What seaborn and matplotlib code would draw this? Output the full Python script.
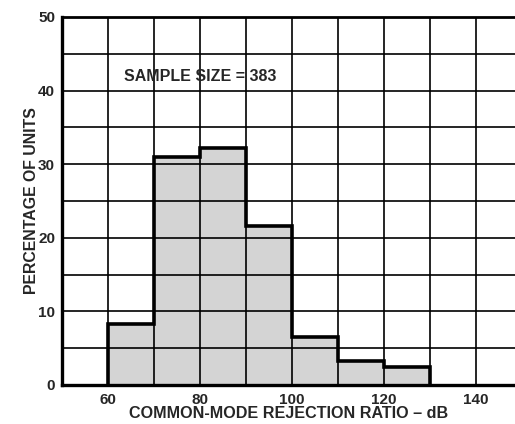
import numpy as np
import matplotlib
matplotlib.use("Agg")
import matplotlib.pyplot as plt
import seaborn as sns

# histogram of common-mode rejection ratio
bin_edges = [60, 70, 80, 90, 100, 110, 120, 130]
percent = [8.3, 31.0, 32.2, 21.6, 6.5, 3.2, 2.4]
x_ticks = [60, 80, 100, 120, 140]
y_ticks = [0, 10, 20, 30, 40, 50]
sample_text = "SAMPLE SIZE = 383"

sns.set_style("white")
plt.rcParams['font.family'] = ['Liberation Sans', 'DejaVu Sans']
plt.rcParams['font.weight'] = 'bold'

fig = plt.figure(figsize=(5.15, 4.24), dpi=100)
ax = fig.add_axes([62 / 515, 1 - 385 / 424, (515 - 62) / 515, (385 - 17) / 424])

centers = [(a + b) / 2 for a, b in zip(bin_edges[:-1], bin_edges[1:])]
sns.histplot(x=centers, weights=percent, bins=bin_edges, ax=ax,
             color='#d4d4d4', alpha=1, edgecolor='none', linewidth=0, zorder=1)
ax.stairs(percent, bin_edges, baseline=0, fill=False, color='black', linewidth=2.6, zorder=3)

ax.set_xlim(50, 148.5)
ax.set_ylim(0, 50)
ax.set_xticks(x_ticks)
ax.set_xticks(np.arange(50, 150, 10), minor=True)
ax.set_yticks(y_ticks)
ax.set_yticks(np.arange(0, 55, 5), minor=True)
ax.set_axisbelow('line')
ax.grid(which='both', color='black', linewidth=1.2)
ax.tick_params(which='both', length=0, labelsize=11)
ax.tick_params(axis='x', pad=6)
ax.tick_params(axis='y', pad=5)
for lab in ax.get_xticklabels() + ax.get_yticklabels():
    lab.set_fontweight('bold')

for side in ['left', 'bottom', 'top']:
    ax.spines[side].set_visible(True)
    ax.spines[side].set_color('black')
ax.spines['left'].set_linewidth(2.4)
ax.spines['bottom'].set_linewidth(2.4)
ax.spines['top'].set_linewidth(2.0)
ax.spines['right'].set_visible(False)

ax.set_xlabel('COMMON-MODE REJECTION RATIO – dB', fontsize=11.6, fontweight='bold', labelpad=-1)
ax.set_ylabel('PERCENTAGE OF UNITS', fontsize=11.4, fontweight='bold', labelpad=-1)
ax.text(63.5, 41.9, sample_text, fontsize=11.5, fontweight='bold', va='center', ha='left', zorder=4)

fig.savefig('out.png', dpi=100)
plt.close(fig)
